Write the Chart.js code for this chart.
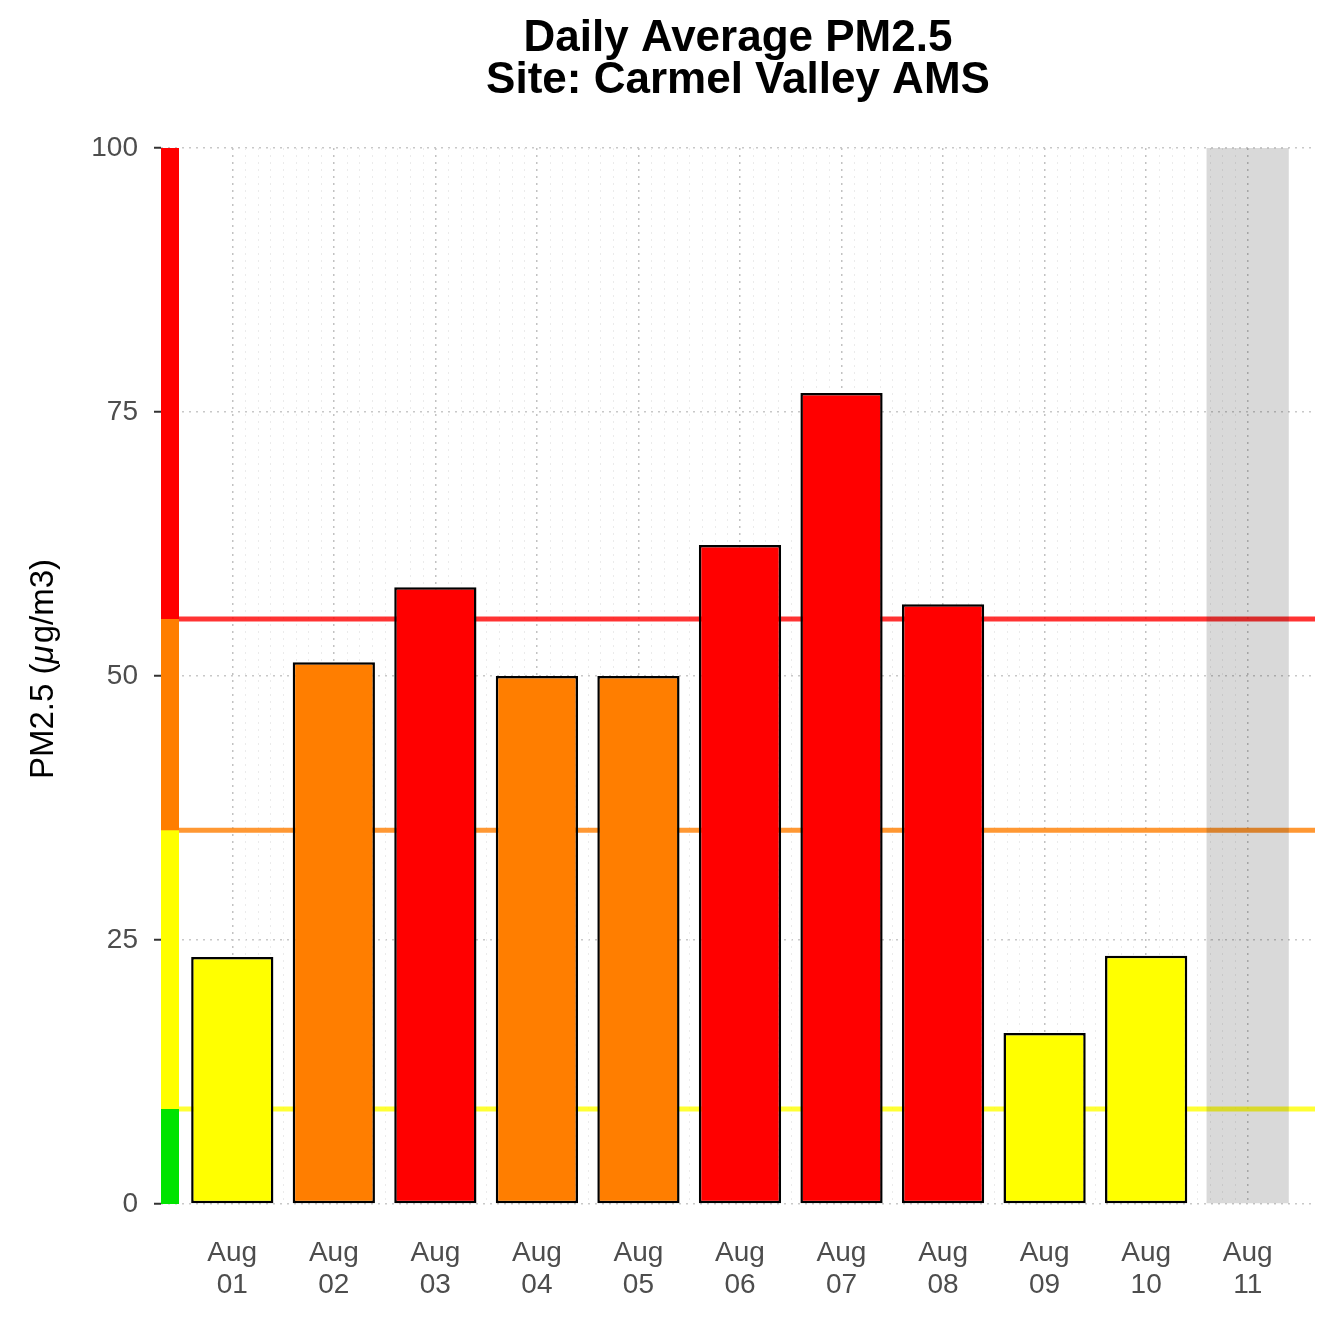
<!DOCTYPE html>
<html>
<head>
<meta charset="utf-8">
<title>Daily Average PM2.5</title>
<script src="https://cdn.jsdelivr.net/npm/chart.js@4.4.1/dist/chart.umd.min.js"></script>
<style>
  html, body { margin: 0; padding: 0; background: #fff; }
  #wrap { width: 1344px; height: 1344px; }
</style>
</head>
<body>
<div id="wrap"><canvas id="pmChart" width="1344" height="1344"></canvas></div>
<script>
// values
const days = ['Aug 01', 'Aug 02', 'Aug 03', 'Aug 04', 'Aug 05', 'Aug 06',
              'Aug 07', 'Aug 08', 'Aug 09', 'Aug 10', 'Aug 11'];
const pm25 = [23.4, 51.3, 58.4, 50.0, 50.0, 62.4, 76.8, 56.8, 16.2, 23.5, null];
const yTicks = [0, 25, 50, 75, 100];
const aqiBreaks = [0, 9.0, 35.4, 55.4, 100];
const aqiColors = ['#00e400', '#ffff00', '#ff7e00', '#ff0000'];
const thresholds = [9.0, 35.4, 55.4];

const FONT = "'Liberation Sans', Arial, Helvetica, sans-serif";
const yMax = yTicks[yTicks.length - 1];
const MINOR_PER_DAY = 8; // 3-hourly minor grid

function colorFor(v) {
    for (let b = 1; b < aqiBreaks.length; b++) {
        if (v <= aqiBreaks[b]) return aqiColors[b - 1];
    }
    return aqiColors[aqiColors.length - 1];
}

function hexToRgba(hex, a) {
    const n = parseInt(hex.slice(1), 16);
    return `rgba(${(n >> 16) & 255}, ${(n >> 8) & 255}, ${n & 255}, ${a})`;
}

const barPoints = [];
const missingPoints = [];
pm25.forEach(function (v, i) {
    if (v === null) missingPoints.push({ x: i + 1, y: yMax });
    else barPoints.push({ x: i + 1, y: v });
});

const aqiPlugin = {
    id: 'aqiPlugin',
    beforeDatasetsDraw(chart) {
        const { ctx, chartArea, scales } = chart;
        ctx.save();
        // faint minor grid between the day lines
        ctx.strokeStyle = '#ebebeb';
        ctx.lineWidth = 1;
        ctx.setLineDash([2, 5]);
        for (let i = 1; i < (days.length - 1) * MINOR_PER_DAY; i++) {
            if (i % MINOR_PER_DAY === 0) continue;
            const x = Math.round(scales.x.getPixelForValue(1 + i / MINOR_PER_DAY)) + 0.5;
            ctx.beginPath();
            ctx.moveTo(x, chartArea.top);
            ctx.lineTo(x, chartArea.bottom);
            ctx.stroke();
        }
        ctx.setLineDash([]);
        // AQI threshold lines behind the bars
        ctx.lineWidth = 5;
        thresholds.forEach(function (t, i) {
            const y = scales.y.getPixelForValue(t);
            ctx.strokeStyle = hexToRgba(aqiColors[i + 1], 0.8);
            ctx.beginPath();
            ctx.moveTo(chartArea.left, y);
            ctx.lineTo(chartArea.right, y);
            ctx.stroke();
        });
        ctx.restore();
    },
    afterDatasetsDraw(chart) {
        // AQI colour strip on the left edge of the panel
        const { ctx, chartArea, scales } = chart;
        ctx.save();
        for (let b = 0; b < aqiColors.length; b++) {
            const top = scales.y.getPixelForValue(aqiBreaks[b + 1]);
            const bottom = scales.y.getPixelForValue(aqiBreaks[b]);
            ctx.fillStyle = aqiColors[b];
            ctx.fillRect(chartArea.left, top, 18, bottom - top);
        }
        ctx.restore();
    },
    afterDraw(chart) {
        const { ctx, chartArea } = chart;
        const cx = (chartArea.left + chartArea.right) / 2;
        const cy = (chartArea.top + chartArea.bottom) / 2;
        ctx.save();
        // title centred over the plot panel
        ctx.fillStyle = '#000';
        ctx.font = 'bold 44px ' + FONT;
        ctx.textAlign = 'center';
        ctx.textBaseline = 'alphabetic';
        ctx.fillText('Daily Average PM2.5', cx, 51);
        ctx.fillText('Site: Carmel Valley AMS', cx, 93);

        // y axis title with an italic mu
        const parts = [['PM2.5 (', 'normal'], ['μ', 'italic'], ['g/m3)', 'normal']];
        let total = 0;
        parts.forEach(function (p) {
            ctx.font = p[1] + ' 33px ' + FONT;
            total += ctx.measureText(p[0]).width;
        });
        ctx.translate(44, cy - 6);
        ctx.rotate(-Math.PI / 2);
        ctx.textAlign = 'left';
        ctx.textBaseline = 'middle';
        let x = -total / 2;
        parts.forEach(function (p) {
            ctx.font = p[1] + ' 33px ' + FONT;
            ctx.fillText(p[0], x, 0);
            x += ctx.measureText(p[0]).width + (p[1] === 'italic' ? 2 : 0);
        });
        ctx.restore();
    }
};

new Chart(document.getElementById('pmChart'), {
    type: 'bar',
    data: {
        datasets: [{
            label: 'No data',
            data: missingPoints,
            backgroundColor: 'rgba(0, 0, 0, 0.15)',
            borderWidth: 0,
            grouped: false,
            barPercentage: 0.81,
            categoryPercentage: 1,
            order: 0
        }, {
            label: 'PM2.5',
            data: barPoints,
            backgroundColor: barPoints.map(p => colorFor(p.y)),
            borderColor: '#000',
            borderWidth: 2.5,
            borderSkipped: false,
            grouped: false,
            barPercentage: 0.81,
            categoryPercentage: 1,
            order: 1
        }]
    },
    options: {
        responsive: false,
        animation: false,
        devicePixelRatio: 1,
        layout: { padding: { top: 148, right: 29, left: 20, bottom: 0 } },
        plugins: {
            legend: { display: false },
            tooltip: { enabled: false },
            title: { display: false }
        },
        scales: {
            x: {
                type: 'linear',
                min: 0.298,
                max: 11.663,
                offset: false,
                afterFit(scale) {
                    scale.height = 140;
                    scale.paddingLeft = 0;
                    scale.paddingRight = 0;
                },
                afterBuildTicks(scale) {
                    scale.ticks = days.map((d, i) => ({ value: i + 1 }));
                },
                ticks: {
                    autoSkip: false,
                    maxRotation: 0,
                    padding: 34,
                    color: '#4d4d4d',
                    font: { family: FONT, size: 28, lineHeight: 1.12 },
                    callback: (value) => days[value - 1].split(' ')
                },
                grid: {
                    offset: false,
                    drawTicks: false,
                    color: '#c2c2c2',
                    lineWidth: 1.5
                },
                border: { display: false, dash: [2, 5] }
            },
            y: {
                min: 0,
                max: yMax,
                afterFit(scale) { scale.width = 141; },
                afterBuildTicks(scale) {
                    scale.ticks = yTicks.map(v => ({ value: v }));
                },
                ticks: {
                    padding: 16,
                    color: '#4d4d4d',
                    font: { family: FONT, size: 28 }
                },
                grid: {
                    color: '#c8c8c8',
                    lineWidth: 1.5,
                    tickLength: 7,
                    tickWidth: 2,
                    tickColor: '#333',
                    tickBorderDash: []
                },
                border: { display: false, dash: [2, 5] },
                title: { display: false }
            }
        }
    },
    plugins: [aqiPlugin]
});
</script>
</body>
</html>
